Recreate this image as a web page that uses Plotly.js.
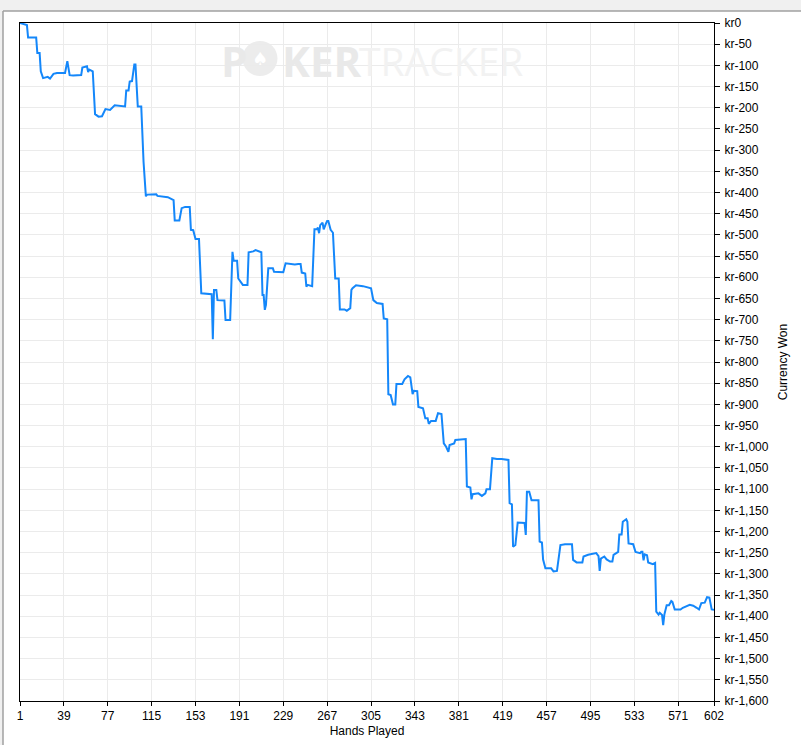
<!DOCTYPE html>
<html>
<head>
<meta charset="utf-8">
<script src="https://cdn.plot.ly/plotly-3.0.1.min.js"></script>
<style>
html,body{margin:0;padding:0;background:#ffffff;}
#chart{width:801px;height:745px;}
</style>
</head>
<body>
<div id="chart"></div>
<script>
// Hands played (x) and cumulative currency won (y)
var hands = [1,5,7,8,15,16,18,19,21,25,27,30,33,40,42,44,47,54,55,59,60,61,64,66,69,72,75,79,83,92,93,95,96,98,100,101,103,106,
  108,110,111,119,120,129,134,135,139,141,144,148,149,151,153,156,158,167,168,169,171,172,178,179,183,185,186,189,190,194,198,199,
  203,205,210,211,212,213,214,216,220,221,229,231,239,242,244,245,248,249,250,254,256,258,259,260,261,263,264,266,267,268,270,272,
  274,277,278,282,284,287,288,289,292,298,304,305,307,310,315,316,319,320,322,324,326,327,332,334,337,339,341,342,345,346,350,352,
  354,355,357,361,363,366,368,370,372,373,377,378,387,388,391,392,393,398,401,404,405,408,410,414,418,424,425,427,428,430,432,438,
  439,440,442,444,450,451,453,454,456,461,463,466,469,473,479,480,483,488,489,493,500,502,503,504,507,509,512,514,515,518,519,520,
  522,523,526,527,528,532,534,538,539,540,541,542,544,545,548,549,551,552,554,555,557,558,559,561,563,565,566,568,573,575,581,584,
  587,589,591,594,596,598,600,602];
var won = [0,-4,-5,-34,-34,-71,-71,-114,-130,-127,-131,-120,-118,-118,-90,-123,-124,-123,-105,-102,-116,-110,-114,-215,-221,-220,-203,-205,-194,-197,-159,-159,-138,-137,-98,-98,-197,-197,
  -328,-409,-405,-404,-408,-411,-418,-466,-466,-437,-434,-434,-488,-489,-510,-510,-638,-640,-746,-630,-630,-654,-655,-701,-701,-540,-561,-561,-603,-618,-618,-541,
  -539,-536,-541,-642,-642,-677,-665,-579,-579,-587,-588,-567,-570,-569,-569,-589,-591,-622,-618,-621,-487,-487,-483,-496,-477,-471,-487,-473,-467,-467,-488,-495,
  -603,-603,-676,-676,-679,-673,-630,-626,-619,-621,-624,-626,-654,-661,-663,-697,-699,-876,-878,-900,-900,-852,-852,-841,-833,-836,-876,-868,-869,-906,-909,-933,
  -933,-946,-939,-939,-921,-923,-992,-1000,-1012,-996,-992,-984,-982,-1094,-1096,-1124,-1112,-1110,-1116,-1110,-1100,-1100,-1027,-1029,-1029,-1031,-1133,-1136,-1236,-1232,-1179,-1180,
  -1208,-1106,-1106,-1126,-1126,-1224,-1226,-1266,-1287,-1287,-1294,-1293,-1232,-1230,-1230,-1267,-1273,-1273,-1259,-1255,-1251,-1258,-1293,-1264,-1259,-1266,-1271,-1271,-1255,-1251,-1248,-1207,
  -1207,-1177,-1171,-1177,-1228,-1230,-1248,-1251,-1248,-1248,-1268,-1254,-1256,-1273,-1275,-1277,-1274,-1389,-1396,-1392,-1397,-1421,-1396,-1374,-1374,-1364,-1366,-1384,-1384,-1380,-1373,-1375,
  -1380,-1384,-1369,-1368,-1355,-1356,-1384,-1385];

var xTickVals = [1,39,77,115,153,191,229,267,305,343,381,419,457,495,533,571,602];
var yTickVals = [0,-50,-100,-150,-200,-250,-300,-350,-400,-450,-500,-550,-600,-650,-700,-750,-800,-850,-900,-950,
  -1000,-1050,-1100,-1150,-1200,-1250,-1300,-1350,-1400,-1450,-1500,-1550,-1600];
var yTickText = ['kr0','kr-50','kr-100','kr-150','kr-200','kr-250','kr-300','kr-350','kr-400','kr-450','kr-500','kr-550',
  'kr-600','kr-650','kr-700','kr-750','kr-800','kr-850','kr-900','kr-950','kr-1,000','kr-1,050','kr-1,100','kr-1,150',
  'kr-1,200','kr-1,250','kr-1,300','kr-1,350','kr-1,400','kr-1,450','kr-1,500','kr-1,550','kr-1,600'];

var FONT = 'Liberation Sans, Arial, sans-serif';

var trace = {
  x: hands, y: won, type: 'scatter', mode: 'lines',
  line: {color: '#1487fa', width: 2},
  hoverinfo: 'skip'
};

var layout = {
  width: 801, height: 745,
  margin: {l: 20, r: 87, t: 23, b: 44, pad: 0},
  paper_bgcolor: '#ffffff', plot_bgcolor: '#ffffff',
  showlegend: false,
  font: {family: FONT, size: 12, color: '#000000'},
  xaxis: {
    range: [1, 602], tickmode: 'array', tickvals: xTickVals,
    showline: true, linecolor: '#000000', linewidth: 1, mirror: true,
    ticks: 'outside', ticklen: 4, tickcolor: '#000000', tickwidth: 1,
    showgrid: true, gridcolor: '#ebebeb', gridwidth: 1, zeroline: false,
    tickfont: {family: FONT, size: 12, color: '#000000'},
    title: {text: 'Hands Played', font: {family: FONT, size: 12, color: '#000000'}, standoff: 4},
    automargin: false, fixedrange: true
  },
  yaxis: {
    side: 'right', range: [-1600, 0], tickmode: 'array', tickvals: yTickVals, ticktext: yTickText,
    showline: true, linecolor: '#000000', linewidth: 1, mirror: true,
    ticks: 'outside', ticklen: 5, tickcolor: '#000000', tickwidth: 1, ticklabelstandoff: 2,
    showgrid: true, gridcolor: '#ebebeb', gridwidth: 1, zeroline: false,
    tickfont: {family: FONT, size: 12, color: '#000000'},
    title: {text: 'Currency Won', font: {family: FONT, size: 12, color: '#000000'}, standoff: 10},
    automargin: false, fixedrange: true
  },
  shapes: [
    {type: 'rect', xref: 'paper', yref: 'paper', x0: -0.1, x1: 1.2, y0: 1.0177, y1: 1.1,
     fillcolor: '#f0f0f0', line: {width: 0}},
    {type: 'rect', xref: 'paper', yref: 'paper', x0: -0.1, x1: -0.0245, y0: -0.2, y1: 1.1,
     fillcolor: '#f0f0f0', line: {width: 0}},
    {type: 'line', xref: 'paper', yref: 'paper', x0: -0.0245, x1: 1.2, y0: 1.0177, y1: 1.0177,
     line: {color: '#a0a0a0', width: 1.5}},
    {type: 'line', xref: 'paper', yref: 'paper', x0: -0.0245, x1: -0.0245, y0: -0.2, y1: 1.0177,
     line: {color: '#a0a0a0', width: 1.5}},
    {type: 'circle', xref: 'paper', yref: 'paper', x0: 0.3206, x1: 0.3710, y0: 0.9218, y1: 0.9735,
     fillcolor: '#ececec', line: {width: 0}, layer: 'below'}
  ],
  annotations: [
    {xref: 'paper', yref: 'paper', x: 0.2867, y: 0.9454, xanchor: 'left', yanchor: 'middle', showarrow: false,
     text: '<b>P</b>', font: {family: 'Open Sans, sans-serif', size: 42, color: '#e9e9e9'}},
    {xref: 'paper', yref: 'paper', x: 0.3458, y: 0.9470, xanchor: 'center', yanchor: 'middle', showarrow: false,
     text: '♠', font: {family: 'DejaVu Sans, sans-serif', size: 18, color: '#ffffff'}},
    {xref: 'paper', yref: 'paper', x: 0.3746, y: 0.9454, xanchor: 'left', yanchor: 'middle', showarrow: false,
     text: '<b>KER</b>', font: {family: 'Open Sans, sans-serif', size: 42, color: '#e9e9e9'}},
    {xref: 'paper', yref: 'paper', x: 0.4856, y: 0.9454, xanchor: 'left', yanchor: 'middle', showarrow: false,
     text: 'TRACKER', font: {family: 'Open Sans, sans-serif', size: 39, color: '#f2f2f2'}}
  ]
};

Plotly.newPlot('chart', [trace], layout, {displayModeBar: false, staticPlot: true});
</script>
</body>
</html>
